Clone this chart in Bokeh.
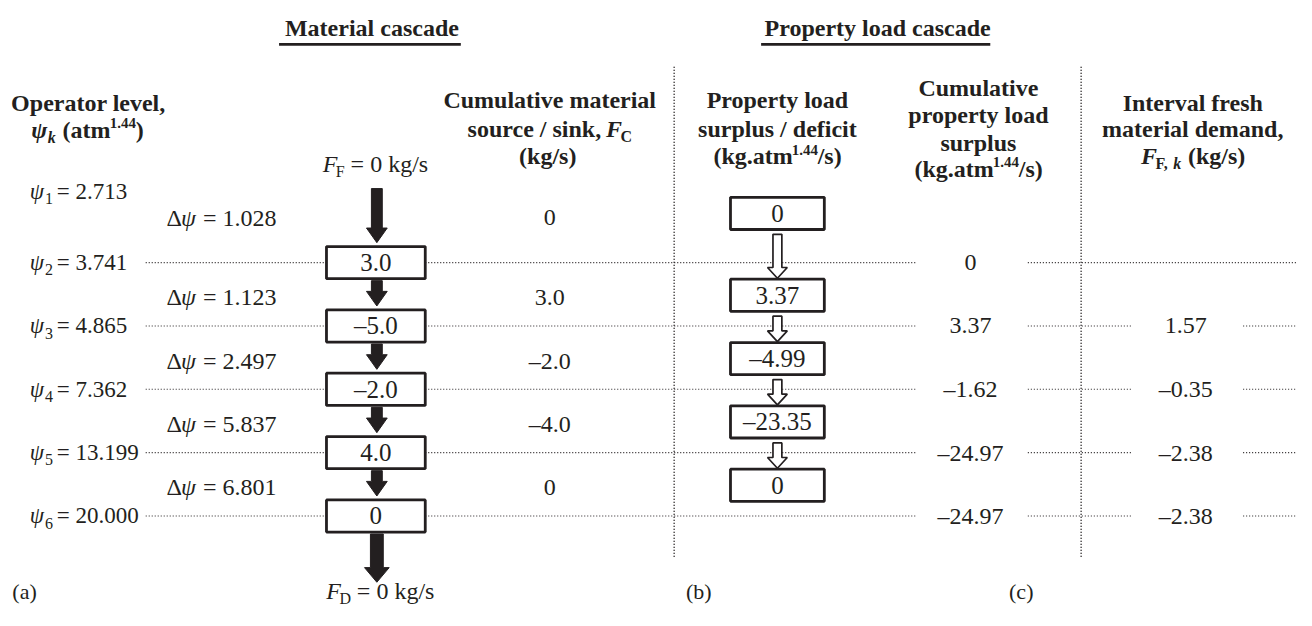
from bokeh.plotting import figure
from bokeh.models import Range1d
from bokeh.embed import file_html
from bokeh.resources import INLINE
from bokeh.core.properties import value

# ---------------- data ----------------
psi_sub = ["1", "2", "3", "4", "5", "6"]
psi_level = [2.713, 3.741, 4.865, 7.362, 13.199, 20.000]
delta_psi = [1.028, 1.123, 2.497, 5.837, 6.801]
net_material = [3.0, -5.0, -2.0, 4.0, 0.0]          # boxes at levels 2..6
cum_material = [0.0, 3.0, -2.0, -4.0, 0.0]         # per interval
prop_load = [0.0, 3.37, -4.99, -23.35, 0.0]        # per interval (boxes)
cum_prop = [0.0, 3.37, -1.62, -24.97, -24.97]      # levels 2..6
fresh_demand = [None, 1.57, -0.35, -2.38, -2.38]   # levels 2..6
fresh_feed = 0
discharge = 0
panel_labels = ["(a)", "(b)", "(c)"]
title_texts = ["Material cascade", "Property load cascade"]

# ---------------- layout / style ----------------
FONT = "Liberation Serif"
TXT = "#231f20"
FS = 24          # header / general size
FS_PSI = 23      # operator level labels
FS_BOX = 25      # numbers inside boxes
SUB = 16
SUP = 15
NB = "\u00a0"
W, H = 1296, 610

p = figure(width=W, height=H, x_range=Range1d(0, 1312), y_range=Range1d(626, 0),
           output_backend="svg", toolbar_location=None, min_border=0,
           x_axis_location=None, y_axis_location=None)
p.grid.visible = False
p.outline_line_color = None
p.background_fill_color = "white"

# Times-like advance widths (per 1000 em)
REG = {' ': 250, NB: 250, '.': 250, ',': 250, '/': 278, '(': 333, ')': 333, '=': 564, '–': 500,
       'a': 444, 'b': 500, 'c': 444, 'd': 500, 'e': 444, 'f': 333, 'g': 500, 'h': 500,
       'i': 278, 'k': 500, 'l': 278, 'm': 778, 'n': 500, 'o': 500, 'p': 500, 'r': 333,
       's': 389, 't': 278, 'u': 500, 'v': 500, 'y': 500, 'C': 667, 'D': 722, 'F': 556,
       'Δ': 612, 'ψ': 680}
BOLD = {' ': 250, NB: 250, '.': 250, ',': 250, '/': 278, '(': 333, ')': 333, '=': 570, '–': 500,
        'a': 500, 'b': 556, 'c': 444, 'd': 556, 'e': 444, 'f': 333, 'g': 500, 'h': 556,
        'i': 278, 'k': 556, 'l': 278, 'm': 833, 'n': 556, 'o': 500, 'p': 556, 'r': 444,
        's': 389, 't': 333, 'u': 556, 'v': 500, 'y': 500, 'C': 722, 'D': 722, 'F': 611,
        'I': 389, 'M': 944, 'O': 778, 'P': 611, 'ψ': 700}


def tw(s, style, size):
    tab = BOLD if "bold" in style else REG
    return sum(tab.get(c, 500) for c in s) / 1000.0 * size


def piece(x, yc, t, style="normal", size=FS, align="left"):
    p.text(x=[x], y=[yc], text=[t], text_font=value(FONT), text_font_size=f"{size}px",
           text_font_style=style, text_align=align, text_baseline="middle",
           text_color=TXT)


def composite(xc, yc, parts, align="center", main=FS):
    """parts: (text, style, size, dy) ; dy = baseline shift (+ = down). yc = centre of main text."""
    base = yc + 0.34 * main
    total = sum(tw(t, s, z) for t, s, z, _ in parts)
    x = xc - total / 2 if align == "center" else xc
    for t, s, z, dy in parts:
        piece(x, base + dy - 0.34 * z, t, s, z)
        x += tw(t, s, z)


def line_text(xc, yc, t, style="normal", size=FS, align="center"):
    piece(xc, yc, t, style, size, align)


def fmt(v, d):
    if v is None:
        return ""
    if v == 0:
        return "0"
    s = f"{abs(v):.{d}f}"
    return ("–" if v < 0 else "") + s


# rows (reference pixel space)
LY = [196] + [269 + 65 * i for i in range(5)]                     # operator level centres
IY = [223] + [(LY[i] + LY[i + 1]) / 2 + 3 for i in range(1, 5)]  # interval text centres
PY = [218.5] + [(LY[i] + LY[i + 1]) / 2 + 1 for i in range(1, 5)]  # property box centres

# columns
X_PSI = 44
X_DPSI = 168
X_MAT = 380
X_CUMM = 556
X_VL = [682, 1094]
X_PROP = 786.5
X_CUMP = 982
X_FRESH = 1200
BOX_H = 33
MAT_W = 100
PROP_W = 95

# ---------------- titles ----------------
for t, (x0, x1) in zip(title_texts, [(282, 466), (770, 1002)]):
    line_text((x0 + x1) / 2 + 2, 28, t, "bold")
    p.line([x0, x1], [45, 45], line_color=TXT, line_width=2.8)

# ---------------- headers ----------------
line_text(89, 105, "Operator level,", "bold")
composite(88, 133, [("ψ", "bold italic", FS, 0), ("k", "bold italic", SUB, 5),
                    (NB + "(atm", "bold", FS, 0), ("1.44", "bold", SUP, -10), (")", "bold", FS, 0)])

line_text(X_CUMM, 102, "Cumulative material", "bold")
composite(X_CUMM, 132, [("source / sink," + NB, "bold", FS, 0), ("F", "bold italic", FS, 0),
                        ("C", "bold", SUB, 5)])
line_text(X_CUMM - 2, 160, "(kg/s)", "bold")

line_text(X_PROP, 102, "Property load", "bold")
line_text(X_PROP, 132, "surplus / deficit", "bold")
composite(X_PROP, 160, [("(kg.atm", "bold", FS, 0), ("1.44", "bold", SUP, -10), ("/s)", "bold", FS, 0)])

line_text(990, 90, "Cumulative", "bold")
line_text(990, 118, "property load", "bold")
line_text(990, 146, "surplus", "bold")
composite(990, 173, [("(kg.atm", "bold", FS, 0), ("1.44", "bold", SUP, -10), ("/s)", "bold", FS, 0)])

line_text(1207, 105, "Interval fresh", "bold")
line_text(1207, 132, "material demand,", "bold")
composite(1207, 160, [("F", "bold italic", FS, 0), ("F," + NB, "bold", SUB, 5),
                      ("k", "bold italic", SUB, 5), (NB + "(kg/s)", "bold", FS, 0)])

# ---------------- dotted grid ----------------
for xv in X_VL:
    p.line([xv, xv], [68, 571], line_color=TXT, line_width=1.6, line_dash="1 2")

for k in range(1, 6):
    y = LY[k]
    segs = [(147, X_MAT - MAT_W / 2), (X_MAT + MAT_W / 2, 927)]
    if fresh_demand[k - 1] is None:
        segs.append((1040, 1312))
    else:
        segs += [(1040, 1145), (1258, 1312)]
    for a, b in segs:
        p.line([a, b], [y, y], line_color=TXT, line_width=1.1, line_dash="1 2")

# ---------------- operator levels & intervals ----------------
for k in range(6):
    base = LY[k] + 0.34 * FS_PSI
    piece(X_PSI, LY[k], "ψ", "italic", FS_PSI, align="right")
    piece(X_PSI + 1, base + 5 - 0.34 * SUB, psi_sub[k], "normal", SUB)
    piece(X_PSI + 13, LY[k], "=" + NB + f"{psi_level[k]:.3f}", "normal", FS_PSI)

for i in range(5):
    composite(X_DPSI, IY[i], [("Δ", "normal", FS, 0), ("ψ", "italic", FS, 0),
                              (NB + "=" + NB + f"{delta_psi[i]:.3f}", "normal", FS, 0)], align="left")
    line_text(X_CUMM, IY[i], fmt(cum_material[i], 1))

# ---------------- material cascade ----------------
mat_y = LY[1:]


def arrow(xc, y0, y1, sw, hw, hl):
    xs = [xc - sw / 2, xc + sw / 2, xc + sw / 2, xc + hw / 2, xc, xc - hw / 2, xc - sw / 2]
    ys = [y0, y0, y1 - hl, y1 - hl, y1, y1 - hl, y1 - hl]
    return xs, ys


axs, ays = [], []
starts = [193] + [y + BOX_H / 2 + 2 for y in mat_y]
ends = [y - BOX_H / 2 - 4 for y in mat_y] + [597]
sizes = [(11, 21, 15)] * 5 + [(13, 25, 15)]
for a, b, (sw, hw, hl) in zip(starts, ends, sizes):
    xs, ys = arrow(X_MAT + 1, a, b, sw, hw, hl)
    axs.append(xs)
    ays.append(ys)
p.patches(axs, ays, fill_color=TXT, line_color=TXT, line_width=1)

p.rect(x=[X_MAT] * 5, y=mat_y, width=MAT_W, height=BOX_H, fill_color="white",
       line_color=TXT, line_width=2.8)
for y, v in zip(mat_y, net_material):
    line_text(X_MAT, y, fmt(v, 1), size=FS_BOX)

composite(X_MAT - 1, 168, [("F", "italic", FS, 0), ("F", "normal", SUB, 5),
                           (NB + "=" + NB + f"{fresh_feed}" + NB + "kg/s", "normal", FS, 0)])
composite(X_MAT + 4, 606, [("F", "italic", FS, 0), ("D", "normal", SUB, 5),
                           (NB + "=" + NB + f"{discharge}" + NB + "kg/s", "normal", FS, 0)])

# ---------------- property load cascade ----------------
hxs, hys = [], []
for i in range(4):
    a = PY[i] + BOX_H / 2 + 5
    b = PY[i + 1] - BOX_H / 2 - 1
    xs, ys = arrow(X_PROP, a, b, 9, 20, 11)
    hxs.append(xs)
    hys.append(ys)
p.patches(hxs, hys, fill_color="white", line_color=TXT, line_width=1.7)

p.rect(x=[X_PROP] * 5, y=PY, width=PROP_W, height=BOX_H, fill_color="white",
       line_color=TXT, line_width=2.8)
for y, v in zip(PY, prop_load):
    line_text(X_PROP, y, fmt(v, 2), size=FS_BOX)

for k in range(5):
    line_text(X_CUMP, LY[k + 1], fmt(cum_prop[k], 2))
    if fresh_demand[k] is not None:
        line_text(X_FRESH, LY[k + 1], fmt(fresh_demand[k], 2))

# ---------------- panel labels ----------------
for t, x in zip(panel_labels, [12, 694, 1021]):
    line_text(x, 606, t, "normal", 22, align="left")

open("out.html", "w").write(file_html(p, INLINE))
